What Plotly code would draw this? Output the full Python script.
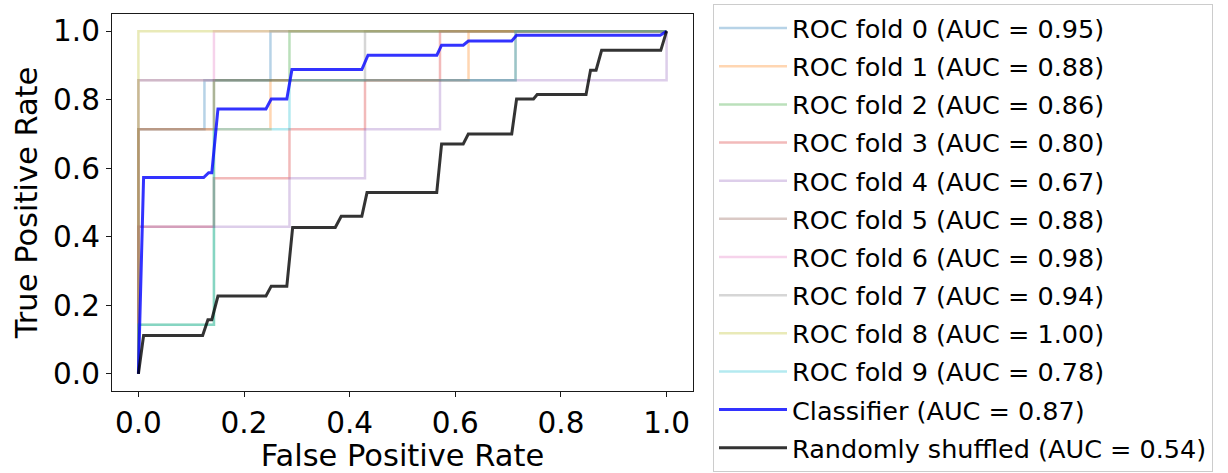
import plotly.graph_objects as go

# ---- data ----
fold_names = [f"ROC fold {i}" for i in range(10)]
fold_auc = [0.95, 0.88, 0.86, 0.80, 0.67, 0.88, 0.98, 0.94, 1.00, 0.78]

fold0_fpr = [0, 0, 0.125, 0.125, 0.25, 0.25, 1]
fold0_tpr = [0, 0.714, 0.714, 0.857, 0.857, 1, 1]
fold1_fpr = [0, 0, 0.25, 0.25, 0.625, 0.625, 1]
fold1_tpr = [0, 0.714, 0.714, 0.857, 0.857, 1, 1]
fold2_fpr = [0, 0, 0.143, 0.143, 0.286, 0.286, 1]
fold2_tpr = [0, 0.143, 0.143, 0.857, 0.857, 1, 1]
fold3_fpr = [0, 0, 0.143, 0.143, 0.286, 0.286, 0.429, 0.429, 0.571, 0.571, 1]
fold3_tpr = [0, 0.429, 0.429, 0.571, 0.571, 0.714, 0.714, 0.857, 0.857, 1, 1]
fold4_fpr = [0, 0, 0.286, 0.286, 0.429, 0.429, 0.571, 0.571, 1, 1]
fold4_tpr = [0, 0.429, 0.429, 0.571, 0.571, 0.714, 0.714, 0.857, 0.857, 1]
fold5_fpr = [0, 0, 0.143, 0.143, 0.714, 0.714, 1]
fold5_tpr = [0, 0.714, 0.714, 0.857, 0.857, 1, 1]
fold6_fpr = [0, 0, 0.143, 0.143, 1]
fold6_tpr = [0, 0.857, 0.857, 1, 1]
fold7_fpr = [0, 0, 0.429, 0.429, 1]
fold7_tpr = [0, 0.857, 0.857, 1, 1]
fold8_fpr = [0, 0, 1]
fold8_tpr = [0, 1, 1]
fold9_fpr = [0, 0, 0.143, 0.143, 0.286, 0.286, 0.714, 0.714, 1]
fold9_tpr = [0, 0.143, 0.143, 0.714, 0.714, 0.857, 0.857, 1, 1]

clf_fpr = [0, 0.0098, 0.1235, 0.133, 0.139, 0.1506, 0.2415, 0.2515, 0.281, 0.2907,
           0.423, 0.4347, 0.565, 0.574, 0.615, 0.6246, 0.7068, 0.716, 0.988, 1.0]
clf_tpr = [0, 0.573, 0.573, 0.587, 0.587, 0.773, 0.773, 0.802, 0.802, 0.888,
           0.888, 0.930, 0.930, 0.959, 0.959, 0.971, 0.971, 0.988, 0.988, 1.0]
clf_auc = 0.87

rnd_fpr = [0, 0.0098, 0.1216, 0.1316, 0.139, 0.1506, 0.2415, 0.2515, 0.281, 0.292,
           0.3727, 0.384, 0.423, 0.4328, 0.5648, 0.574, 0.615, 0.6246, 0.7068, 0.716,
           0.748, 0.755, 0.8475, 0.856, 0.8665, 0.877, 0.989, 1.0]
rnd_tpr = [0, 0.112, 0.112, 0.158, 0.158, 0.227, 0.227, 0.256, 0.256, 0.427,
           0.427, 0.46, 0.46, 0.529, 0.529, 0.671, 0.671, 0.70, 0.70, 0.802,
           0.802, 0.815, 0.815, 0.886, 0.886, 0.944, 0.944, 1.0]
rnd_auc = 0.54

tick_vals = [0.0, 0.2, 0.4, 0.6, 0.8, 1.0]
tick_text = ["0.0", "0.2", "0.4", "0.6", "0.8", "1.0"]

fold_fpr = [fold0_fpr, fold1_fpr, fold2_fpr, fold3_fpr, fold4_fpr,
            fold5_fpr, fold6_fpr, fold7_fpr, fold8_fpr, fold9_fpr]
fold_tpr = [fold0_tpr, fold1_tpr, fold2_tpr, fold3_tpr, fold4_tpr,
            fold5_tpr, fold6_tpr, fold7_tpr, fold8_tpr, fold9_tpr]

# ---- styles ----
tab10 = [(31, 119, 180), (255, 127, 14), (44, 160, 44), (214, 39, 40), (148, 103, 189),
         (140, 86, 75), (227, 119, 194), (127, 127, 127), (188, 189, 34), (23, 190, 207)]
FONT = "DejaVu Sans"

fig = go.Figure()
for i in range(10):
    r, g, b = tab10[i]
    fig.add_trace(go.Scatter(
        x=fold_fpr[i], y=fold_tpr[i], mode="lines",
        name=f"{fold_names[i]} (AUC = {fold_auc[i]:.2f})",
        legendgroup=f"g{i}",
        line=dict(color=f"rgba({r},{g},{b},0.32)", width=2.5),
    ))
fig.add_trace(go.Scatter(
    x=clf_fpr, y=clf_tpr, mode="lines",
    name=f"Classifier (AUC = {clf_auc:.2f})", legendgroup="g10",
    line=dict(color="rgba(0,0,255,0.8)", width=3),
))
fig.add_trace(go.Scatter(
    x=rnd_fpr, y=rnd_tpr, mode="lines",
    name=f"Randomly shuffled (AUC = {rnd_auc:.2f})", legendgroup="g11",
    line=dict(color="rgba(0,0,0,0.8)", width=3),
))

axis_common = dict(
    range=[-0.05, 1.05], tickvals=tick_vals, ticktext=tick_text,
    showline=True, linecolor="#1a1a1a", linewidth=1.3, mirror=True,
    ticks="outside", ticklen=5, tickwidth=1.2, tickcolor="#1a1a1a",
    showgrid=False, zeroline=False,
    tickfont=dict(family=FONT, size=29.5, color="#000"),
)

fig.update_layout(
    width=1228, height=473,
    margin=dict(l=112, r=535, t=14, b=82, autoexpand=False),
    paper_bgcolor="white", plot_bgcolor="white",
    font=dict(family=FONT, color="#000"),
    xaxis=dict(**axis_common,
               title=dict(text="False Positive Rate", font=dict(family=FONT, size=30.5), standoff=2)),
    yaxis=dict(**axis_common,
               title=dict(text="True Positive Rate", font=dict(family=FONT, size=30.5), standoff=6)),
    showlegend=True,
    legend=dict(
        x=(713 - 112) / 581, y=1 - 4 / 473, yref="container",
        xanchor="left", yanchor="top",
        font=dict(family=FONT, size=25.5, color="#000"),
        bgcolor="white", bordercolor="#cccccc", borderwidth=1,
        traceorder="grouped", tracegroupgap=2, itemwidth=68,
        maxheight=470,
    ),
)

fig.write_html("out.html")
